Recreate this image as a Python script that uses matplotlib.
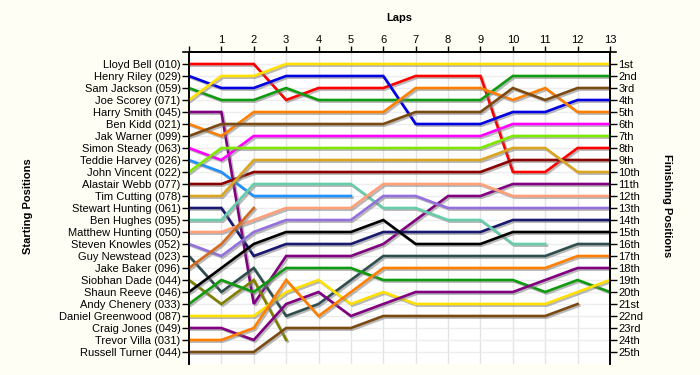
import numpy as np
import matplotlib
matplotlib.use("Agg")
import matplotlib.pyplot as plt
import matplotlib.patheffects as pe
from matplotlib.lines import Line2D

plt.rcParams['font.family'] = ['Liberation Sans', 'DejaVu Sans']

laps = list(range(0, 14))
lap_labels = [str(i) for i in range(1, 14)]

drivers = ["Lloyd Bell (010)", "Henry Riley (029)", "Sam Jackson (059)", "Joe Scorey (071)",
           "Harry Smith (045)", "Ben Kidd (021)", "Jak Warner (099)", "Simon Steady (063)",
           "Teddie Harvey (026)", "John Vincent (022)", "Alastair Webb (077)", "Tim Cutting (078)",
           "Stewart Hunting (061)", "Ben Hughes (095)", "Matthew Hunting (050)", "Steven Knowles (052)",
           "Guy Newstead (023)", "Jake Baker (096)", "Siobhan Dade (044)", "Shaun Reeve (046)",
           "Andy Chenery (033)", "Daniel Greenwood (087)", "Craig Jones (049)", "Trevor Villa (031)",
           "Russell Turner (044)"]

colors = ["#FF0000", "#0000E0", "#109A10", "#FFE000", "#800080", "#FF8000", "#7B4A12", "#FF00FF",
          "#1E90FF", "#7FE800", "#8B0000", "#DAA520", "#191970", "#66CDAA", "#FFA07A", "#9370DB",
          "#2F4F4F", "#D2691E", "#808000", "#000000", "#109A10", "#FFE000", "#800080", "#FF8000",
          "#7B4A12"]

lloyd_bell = [1, 1, 1, 4, 3, 3, 3, 2, 2, 2, 10, 10, 8, 8]
henry_riley = [2, 3, 3, 2, 2, 2, 2, 6, 6, 6, 5, 5, 4, 4]
sam_jackson = [3, 4, 4, 3, 4, 4, 4, 4, 4, 4, 2, 2, 2, 2]
joe_scorey = [4, 2, 2, 1, 1, 1, 1, 1, 1, 1, 1, 1, 1, 1]
harry_smith = [5, 5, 21, 17, 17, 17, 16, 14, 12, 12, 11, 11, 11, 11]
ben_kidd = [6, 7, 5, 5, 5, 5, 5, 3, 3, 3, 4, 3, 5, 5]
jak_warner = [7, 6, 6, 6, 6, 6, 6, 5, 5, 5, 3, 4, 3, 3]
simon_steady = [8, 9, 7, 7, 7, 7, 7, 7, 7, 7, 6, 6, 6, 6]
teddie_harvey = [9, 10, 12, 12, 12, 12]
john_vincent = [10, 8, 8, 8, 8, 8, 8, 8, 8, 8, 7, 7, 7, 7]
alastair_webb = [11, 11, 10, 10, 10, 10, 10, 10, 10, 10, 9, 9, 9, 9]
tim_cutting = [12, 12, 9, 9, 9, 9, 9, 9, 9, 9, 8, 8, 10, 10]
stewart_hunting = [13, 13, 17, 16, 16, 16, 15, 15, 15, 15, 14, 14, 14, 14]
ben_hughes = [14, 14, 11, 11, 11, 11, 13, 13, 14, 14, 16, 16]
matthew_hunting = [15, 15, 14, 13, 13, 13, 11, 11, 11, 11, 12, 12, 12, 12]
steven_knowles = [16, 17, 15, 14, 14, 14, 12, 12, 13, 13, 13, 13, 13, 13]
guy_newstead = [17, 20, 18, 22, 21, 19, 17, 17, 17, 17, 17, 17, 16, 16]
jake_baker = [18, 16, 13]
siobhan_dade = [19, 21, 19, 24]
shaun_reeve = [20, 18, 16, 15, 15, 15, 14, 16, 16, 16, 15, 15, 15, 15]
andy_chenery = [21, 19, 20, 18, 18, 18, 19, 19, 19, 19, 19, 20, 19, 20]
daniel_greenwood = [22, 22, 22, 20, 19, 21, 20, 21, 21, 21, 21, 21, 20, 19]
craig_jones = [23, 23, 24, 21, 20, 22, 21, 20, 20, 20, 20, 19, 18, 18]
trevor_villa = [24, 24, 23, 19, 22, 20, 18, 18, 18, 18, 18, 18, 17, 17]
russell_turner = [25, 25, 25, 23, 23, 23, 22, 22, 22, 22, 22, 22, 21]

series = [lloyd_bell, henry_riley, sam_jackson, joe_scorey, harry_smith, ben_kidd, jak_warner,
          simon_steady, teddie_harvey, john_vincent, alastair_webb, tim_cutting, stewart_hunting,
          ben_hughes, matthew_hunting, steven_knowles, guy_newstead, jake_baker, siobhan_dade,
          shaun_reeve, andy_chenery, daniel_greenwood, craig_jones, trevor_villa, russell_turner]

finish_labels = ["1st", "2nd", "3rd"] + ["%dth" % i for i in range(4, 21)] + \
                ["21st", "22nd", "23rd", "24th", "25th"]

bg = "#FFFEF5"
fig = plt.figure(figsize=(7, 3.75), dpi=100, facecolor=bg)
ax = fig.add_axes([189 / 700, 1 - 364 / 375, (610 - 189) / 700, (364 - 52) / 375])
ax.set_facecolor("white")

ax.set_xlim(0, 13)
ax.set_ylim(26, 0)

for xv in range(1, 13):
    ax.axvline(xv, color="#E4E4E4", lw=1, zorder=0)
for yv in range(1, 26):
    ax.axhline(yv, color="#EDEDED", lw=1, zorder=0)

shadow = [pe.SimpleLineShadow(offset=(1.2, -1.2), shadow_color="#808080", alpha=0.55), pe.Normal()]
for vals, c in zip(series, colors):
    ax.plot(laps[:len(vals)], vals, color=c, lw=1.9, solid_joinstyle="miter",
            path_effects=shadow, zorder=3)

ax.xaxis.tick_top()
ax.set_xticks(laps)
ax.set_xticklabels([""] + lap_labels, fontsize=8)
ax.tick_params(axis="x", direction="out", length=4, width=1, pad=1)

ax.set_yticks(range(1, 26))
ax.set_yticklabels(drivers, fontsize=8)
ax.tick_params(axis="y", direction="out", length=5, width=1, pad=1)

ax2 = ax.twinx()
ax2.set_ylim(26, 0)
ax2.set_yticks(range(1, 26))
ax2.set_yticklabels(finish_labels, fontsize=8)
ax2.tick_params(axis="y", direction="out", length=5, width=1, pad=1)

for a in (ax, ax2):
    a.spines["bottom"].set_visible(False)
    for s in ("top", "left", "right"):
        a.spines[s].set_linewidth(1.2)

# top axis line extends slightly beyond the plot
ax.add_line(Line2D([-0.2, 13.18], [0, 0], color="black", lw=1.2, clip_on=False))

fig.text(399 / 700, 1 - 18 / 375, "Laps", ha="center", va="center", fontsize=8, fontweight="bold")
fig.text(28 / 700, 1 - 206 / 375, "Starting Positions", ha="center", va="center",
         fontsize=8, fontweight="bold", rotation=90)
fig.text(667 / 700, 1 - 206 / 375, "Finishing Positions", ha="center", va="center",
         fontsize=8, fontweight="bold", rotation=-90)

fig.savefig("out.png", dpi=100, facecolor=bg)
